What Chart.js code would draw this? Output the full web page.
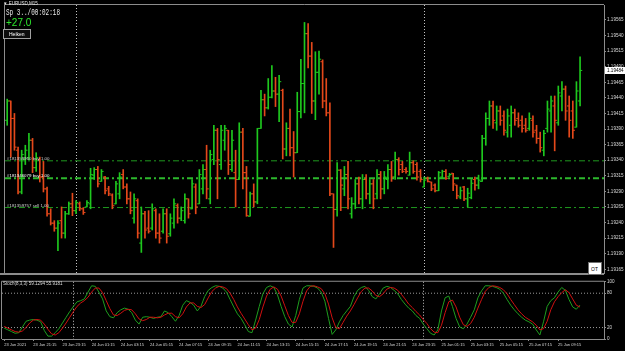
<!DOCTYPE html>
<html>
<head>
<meta charset="utf-8">
<title>EURUSD,M15</title>
<script src="https://cdn.jsdelivr.net/npm/chart.js@4.4.1/dist/chart.umd.min.js"></script>
<style>
  body { margin: 0; background: #000; }
  #wrap { position: relative; width: 625px; height: 351px; background: #000; overflow: hidden; font-family: 'Liberation Sans', Arial, sans-serif; }
  canvas { position: absolute; left: 0; }
  #main { top: 0; }
  #stoch { top: 278px; }
  .txt { position: absolute; white-space: nowrap; transform-origin: 0 0; color: #e8e8e8; }
  #sym { left: 3px; top: 1px; font-size: 9px; transform: scale(0.5); }
  #timer { left: 6px; top: 8px; font-family: 'Liberation Mono', monospace; font-size: 12px; transform: scale(0.5, 0.7); }
  #profit { left: 6px; top: 17px; font-size: 10px; color: #2ee82e; }
  .btn { position: absolute; border: 1px solid #a0a0a0; box-sizing: border-box; }
  #heiken { left: 3px; top: 29px; width: 28px; height: 10px; background: #0c0c0c; }
  #heikenTxt { left: 9px; top: 31px; font-size: 10px; transform: scale(0.5); color: #fff; }
  #ot { left: 588px; top: 262px; width: 14px; height: 13px; background: #fff; border-color: #707070; }
  #otTxt { left: 591px; top: 266px; font-size: 10px; transform: scale(0.5); color: #000; }
  #stochTxt { left: 3px; top: 281px; font-size: 9px; transform: scale(0.5); color: #ddd; }
</style>
</head>
<body>
<div id="wrap">
  <canvas id="main" width="625" height="278"></canvas>
  <canvas id="stoch" width="625" height="73"></canvas>
  <div class="txt" id="sym">&#9660; EURUSD,M15</div>
  <div class="txt" id="timer">Sp 3../00:02:18</div>
  <div class="txt" id="profit">+27.0</div>
  <div class="btn" id="heiken"></div>
  <div class="txt" id="heikenTxt">Heiken</div>
  <div class="btn" id="ot"></div>
  <div class="txt" id="otTxt">OT</div>
  <div class="txt" id="stochTxt">Stoch(8,3,3) 59.1294 55.9181</div>
</div>
<script>
// M15 bars, 23 Jun 2021 19:15 -> 25 Jun 2021 10:45
const open = [
  1.19404, 1.19435, 1.19407, 1.19356, 1.19289, 1.19341, 1.19344, 1.19372, 1.19328, 1.19341,
  1.19313, 1.19294, 1.19254, 1.19239, 1.19231, 1.19243, 1.19223, 1.19254, 1.19270, 1.19259,
  1.19270, 1.19262, 1.19265, 1.19270, 1.19316, 1.19325, 1.19306, 1.19313, 1.19294, 1.19284,
  1.19270, 1.19286, 1.19317, 1.19297, 1.19278, 1.19247, 1.19275, 1.19207, 1.19254, 1.19231,
  1.19231, 1.19259, 1.19223, 1.19226, 1.19254, 1.19222, 1.19239, 1.19267, 1.19247, 1.19243,
  1.19278, 1.19262, 1.19297, 1.19270, 1.19294, 1.19325, 1.19278, 1.19341, 1.19388, 1.19333,
  1.19372, 1.19388, 1.19325, 1.19320, 1.19309, 1.19385, 1.19320, 1.19250, 1.19286, 1.19273,
  1.19391, 1.19437, 1.19424, 1.19441, 1.19451, 1.19446, 1.19452, 1.19358, 1.19391, 1.19360,
  1.19352, 1.19418, 1.19463, 1.19543, 1.19507, 1.19435, 1.19481, 1.19498, 1.19435, 1.19416,
  1.19286, 1.19261, 1.19324, 1.19294, 1.19317, 1.19254, 1.19270, 1.19302, 1.19278, 1.19309,
  1.19286, 1.19302, 1.19286, 1.19317, 1.19294, 1.19309, 1.19325, 1.19313, 1.19341, 1.19333,
  1.19325, 1.19316, 1.19336, 1.19333, 1.19322, 1.19297, 1.19311, 1.19305, 1.19300, 1.19291,
  1.19313, 1.19322, 1.19314, 1.19319, 1.19300, 1.19281, 1.19297, 1.19278, 1.19280, 1.19309,
  1.19300, 1.19306, 1.19375, 1.19407, 1.19427, 1.19400, 1.19419, 1.19411, 1.19385, 1.19396,
  1.19416, 1.19407, 1.19404, 1.19396, 1.19391, 1.19404, 1.19388, 1.19375, 1.19356, 1.19391,
  1.19419, 1.19427, 1.19400, 1.19443, 1.19454, 1.19427, 1.19419, 1.19393, 1.19435
];
const high = [
  1.19438, 1.19435, 1.19415, 1.19361, 1.19356, 1.19364, 1.19383, 1.19375, 1.19352, 1.19345,
  1.19338, 1.19297, 1.19262, 1.19243, 1.19243, 1.19265, 1.19258, 1.19273, 1.19287, 1.19275,
  1.19273, 1.19264, 1.19275, 1.19327, 1.19328, 1.19330, 1.19325, 1.19314, 1.19298, 1.19286,
  1.19306, 1.19320, 1.19325, 1.19302, 1.19289, 1.19286, 1.19278, 1.19265, 1.19258, 1.19259,
  1.19270, 1.19262, 1.19254, 1.19262, 1.19262, 1.19254, 1.19278, 1.19270, 1.19265, 1.19286,
  1.19278, 1.19309, 1.19302, 1.19325, 1.19333, 1.19364, 1.19356, 1.19396, 1.19391, 1.19396,
  1.19396, 1.19388, 1.19388, 1.19356, 1.19400, 1.19391, 1.19330, 1.19289, 1.19302, 1.19391,
  1.19452, 1.19446, 1.19471, 1.19492, 1.19473, 1.19476, 1.19454, 1.19400, 1.19422, 1.19386,
  1.19449, 1.19502, 1.19561, 1.19559, 1.19529, 1.19514, 1.19515, 1.19501, 1.19471, 1.19432,
  1.19286, 1.19336, 1.19325, 1.19330, 1.19338, 1.19280, 1.19309, 1.19313, 1.19317, 1.19317,
  1.19309, 1.19309, 1.19325, 1.19322, 1.19322, 1.19333, 1.19338, 1.19353, 1.19344, 1.19338,
  1.19328, 1.19353, 1.19339, 1.19336, 1.19325, 1.19313, 1.19313, 1.19305, 1.19302, 1.19322,
  1.19324, 1.19325, 1.19319, 1.19319, 1.19300, 1.19297, 1.19298, 1.19295, 1.19309, 1.19313,
  1.19316, 1.19380, 1.19416, 1.19435, 1.19435, 1.19427, 1.19427, 1.19419, 1.19422, 1.19427,
  1.19422, 1.19416, 1.19411, 1.19407, 1.19416, 1.19411, 1.19396, 1.19385, 1.19388, 1.19435,
  1.19443, 1.19443, 1.19459, 1.19466, 1.19459, 1.19443, 1.19435, 1.19466, 1.19506
];
const low = [
  1.19396, 1.19345, 1.19356, 1.19286, 1.19286, 1.19333, 1.19341, 1.19320, 1.19322, 1.19305,
  1.19289, 1.19250, 1.19236, 1.19226, 1.19195, 1.19215, 1.19215, 1.19253, 1.19251, 1.19254,
  1.19259, 1.19253, 1.19265, 1.19262, 1.19309, 1.19297, 1.19306, 1.19286, 1.19283, 1.19262,
  1.19270, 1.19278, 1.19294, 1.19270, 1.19254, 1.19239, 1.19215, 1.19192, 1.19215, 1.19223,
  1.19228, 1.19215, 1.19207, 1.19223, 1.19207, 1.19218, 1.19231, 1.19239, 1.19243, 1.19239,
  1.19247, 1.19262, 1.19254, 1.19270, 1.19286, 1.19278, 1.19270, 1.19333, 1.19278, 1.19325,
  1.19356, 1.19317, 1.19322, 1.19265, 1.19309, 1.19294, 1.19250, 1.19250, 1.19265, 1.19270,
  1.19391, 1.19411, 1.19422, 1.19440, 1.19426, 1.19402, 1.19342, 1.19347, 1.19347, 1.19313,
  1.19352, 1.19408, 1.19416, 1.19488, 1.19415, 1.19405, 1.19446, 1.19424, 1.19411, 1.19283,
  1.19200, 1.19250, 1.19259, 1.19283, 1.19262, 1.19247, 1.19262, 1.19270, 1.19262, 1.19278,
  1.19270, 1.19262, 1.19278, 1.19278, 1.19286, 1.19294, 1.19306, 1.19309, 1.19316, 1.19320,
  1.19319, 1.19316, 1.19319, 1.19308, 1.19305, 1.19297, 1.19305, 1.19291, 1.19289, 1.19291,
  1.19311, 1.19309, 1.19314, 1.19291, 1.19278, 1.19278, 1.19275, 1.19265, 1.19278, 1.19292,
  1.19294, 1.19306, 1.19364, 1.19396, 1.19391, 1.19388, 1.19396, 1.19380, 1.19377, 1.19377,
  1.19396, 1.19393, 1.19385, 1.19385, 1.19388, 1.19377, 1.19367, 1.19353, 1.19347, 1.19385,
  1.19385, 1.19355, 1.19396, 1.19419, 1.19404, 1.19377, 1.19375, 1.19393, 1.19427
];
const close = [
  1.19435, 1.19407, 1.19361, 1.19289, 1.19349, 1.19356, 1.19372, 1.19328, 1.19344, 1.19313,
  1.19294, 1.19254, 1.19239, 1.19231, 1.19239, 1.19223, 1.19254, 1.19270, 1.19259, 1.19272,
  1.19262, 1.19256, 1.19272, 1.19317, 1.19325, 1.19302, 1.19322, 1.19291, 1.19286, 1.19267,
  1.19302, 1.19313, 1.19297, 1.19278, 1.19259, 1.19278, 1.19223, 1.19254, 1.19228, 1.19226,
  1.19262, 1.19223, 1.19215, 1.19254, 1.19218, 1.19247, 1.19270, 1.19247, 1.19259, 1.19278,
  1.19254, 1.19302, 1.19265, 1.19317, 1.19325, 1.19294, 1.19349, 1.19388, 1.19341, 1.19388,
  1.19391, 1.19333, 1.19372, 1.19309, 1.19385, 1.19320, 1.19251, 1.19286, 1.19273, 1.19391,
  1.19437, 1.19424, 1.19441, 1.19451, 1.19446, 1.19466, 1.19358, 1.19391, 1.19360, 1.19352,
  1.19418, 1.19463, 1.19543, 1.19507, 1.19435, 1.19481, 1.19502, 1.19435, 1.19416, 1.19286,
  1.19261, 1.19324, 1.19300, 1.19317, 1.19278, 1.19270, 1.19302, 1.19278, 1.19309, 1.19286,
  1.19302, 1.19278, 1.19317, 1.19294, 1.19313, 1.19325, 1.19313, 1.19341, 1.19325, 1.19322,
  1.19322, 1.19336, 1.19322, 1.19313, 1.19309, 1.19308, 1.19306, 1.19294, 1.19291, 1.19320,
  1.19322, 1.19311, 1.19317, 1.19302, 1.19283, 1.19291, 1.19278, 1.19287, 1.19303, 1.19300,
  1.19308, 1.19375, 1.19407, 1.19427, 1.19404, 1.19419, 1.19404, 1.19388, 1.19411, 1.19416,
  1.19404, 1.19396, 1.19391, 1.19388, 1.19407, 1.19385, 1.19375, 1.19360, 1.19383, 1.19422,
  1.19435, 1.19404, 1.19448, 1.19454, 1.19419, 1.19404, 1.19388, 1.19451, 1.19484
];

// Stochastic(8,3,3): main and signal
const stochMain = [
  19, 16, 13, 10, 11, 21, 31, 33, 34, 33,
  30, 15, 5, 5, 11, 18, 28, 38, 48, 57,
  65, 67, 70, 82, 93, 92, 82, 70, 49, 39,
  37, 46, 51, 54, 52, 46, 33, 26, 38, 39,
  38, 36, 38, 39, 49, 46, 39, 31, 41, 59,
  67, 64, 59, 49, 57, 74, 85, 90, 93, 92,
  89, 82, 69, 56, 44, 36, 25, 13, 11, 33,
  57, 79, 90, 93, 90, 77, 57, 39, 26, 21,
  41, 69, 89, 93, 93, 92, 89, 82, 66, 36,
  8, 16, 30, 41, 49, 57, 74, 85, 90, 92,
  85, 74, 70, 79, 89, 92, 90, 85, 79, 69,
  61, 54, 49, 41, 36, 26, 18, 10, 7, 16,
  49, 72, 75, 57, 36, 21, 18, 26, 38, 51,
  72, 84, 93, 93, 92, 90, 87, 80, 69, 59,
  51, 44, 38, 33, 30, 26, 16, 7, 30, 57,
  67, 72, 82, 90, 85, 69, 56, 52, 59.13
];
const stochSignal = [
  22, 19, 16, 13, 12, 14, 20, 28, 33, 34,
  33, 26, 17, 9, 7, 11, 19, 28, 38, 48,
  57, 63, 67, 73, 82, 89, 89, 81, 67, 53,
  42, 41, 45, 50, 52, 51, 44, 35, 32, 34,
  38, 38, 37, 38, 42, 45, 45, 39, 37, 44,
  56, 63, 63, 57, 55, 60, 72, 83, 89, 92,
  91, 88, 80, 69, 56, 45, 35, 25, 16, 19,
  34, 56, 75, 87, 91, 87, 75, 58, 41, 29,
  29, 44, 66, 84, 92, 93, 91, 88, 79, 61,
  37, 20, 18, 29, 40, 49, 60, 72, 83, 89,
  89, 84, 76, 74, 79, 87, 90, 89, 85, 78,
  70, 61, 55, 48, 42, 34, 27, 18, 12, 11,
  24, 46, 65, 68, 56, 38, 25, 22, 27, 38,
  54, 69, 83, 90, 93, 92, 90, 86, 79, 69,
  60, 51, 44, 38, 34, 30, 24, 16, 18, 31,
  51, 65, 74, 81, 86, 81, 70, 59, 55.92
];

// open orders
const orderLevels = [1.19339, 1.19311, 1.19264];
const orderLabels = ['#181359960 buy 1.00', '#181346079 buy 1.00', '#181359757 sell 1.00'];

// axes
const priceTicks = [1.19165, 1.19190, 1.19215, 1.19240, 1.19265, 1.19290, 1.19315, 1.19340, 1.19365,
  1.19390, 1.19415, 1.19440, 1.19465, 1.19490, 1.19515, 1.19540, 1.19565];
const stochTicks = [0, 20, 80, 100];
const stochLevels = [20, 80];
const timeTickIndex = [0, 8, 16, 24, 32, 40, 48, 56, 64, 72, 80, 88, 96, 104, 112, 120, 128, 136, 144, 152];
const timeTickLabels = ['23 Jun 2021', '23 Jun 21:15', '23 Jun 23:15', '24 Jun 01:15', '24 Jun 03:15',
  '24 Jun 05:15', '24 Jun 07:15', '24 Jun 09:15', '24 Jun 11:15', '24 Jun 13:15', '24 Jun 15:15',
  '24 Jun 17:15', '24 Jun 19:15', '24 Jun 21:15', '24 Jun 23:15', '25 Jun 01:15', '25 Jun 03:15',
  '25 Jun 05:15', '25 Jun 07:15', '25 Jun 09:15'];
const daySeparators = [19, 115];

const xMin = -0.6, xMax = 164.6;
const priceMin = 1.19159, priceMax = 1.19589;

const bullColor = '#1ec81e';
const bearColor = '#e4481a';
const orderColor = '#1f9a1f';
const frameColor = '#8c8c8c';
const axisFont = { family: 'Liberation Sans', size: 4.6 };

const barColors = close.map((c, i) => c >= open[i] ? bullColor : bearColor);

// dotted day separators + pane frame
const paneDecor = {
  id: 'paneDecor',
  beforeDatasetsDraw(chart) {
    const { ctx, chartArea: a, scales: { x } } = chart;
    ctx.save();
    ctx.strokeStyle = '#c4c4c4';
    ctx.lineWidth = 1;
    ctx.setLineDash([1, 2]);
    daySeparators.forEach(i => {
      const px = Math.round(x.getPixelForValue(i)) + 0.5;
      ctx.beginPath();
      ctx.moveTo(px, a.top);
      ctx.lineTo(px, a.bottom);
      ctx.stroke();
    });
    ctx.restore();
  },
  afterDraw(chart) {
    const { ctx, chartArea: a } = chart;
    ctx.save();
    ctx.strokeStyle = frameColor;
    ctx.lineWidth = 1;
    ctx.beginPath();
    ctx.moveTo(a.left - 0.5, a.bottom);
    ctx.lineTo(a.left - 0.5, a.top - 0.5);
    ctx.lineTo(a.right, a.top - 0.5);
    ctx.stroke();
    if (chart.canvas.id === 'main') {
      ctx.lineWidth = 2;
      ctx.beginPath();
      ctx.moveTo(0, a.bottom + 1);
      ctx.lineTo(a.right, a.bottom + 1);
      ctx.stroke();
    }
    ctx.restore();
  }
};

// order labels and current price tag
const mainText = {
  id: 'mainText',
  afterDatasetsDraw(chart) {
    const { ctx, chartArea: a, scales: { y } } = chart;
    ctx.save();
    ctx.font = '4.4px Liberation Sans';
    ctx.textBaseline = 'middle';
    orderLevels.forEach((lvl, k) => {
      ctx.fillStyle = k === 1 ? '#ffffff' : '#cfcfcf';
      ctx.fillText(orderLabels[k], a.left + 2, y.getPixelForValue(lvl) - 2);
    });
    ctx.restore();
  },
  afterDraw(chart) {
    const { ctx, chartArea: a, scales: { y } } = chart;
    const last = close[close.length - 1];
    const py = Math.round(y.getPixelForValue(last));
    ctx.save();
    ctx.fillStyle = '#ffffff';
    ctx.fillRect(a.right + 1, py - 3, chart.width - a.right - 1, 7);
    ctx.fillStyle = '#000';
    ctx.font = axisFont.size + 'px Liberation Sans';
    ctx.textBaseline = 'middle';
    ctx.fillText(last.toFixed(5), a.right + 3, py + 0.5);
    ctx.restore();
  }
};

const hLine = (v, a, b) => [{ x: a, y: v }, { x: b, y: v }];

new Chart(document.getElementById('main'), {
  type: 'bar',
  data: {
    datasets: [
      {
        label: 'range',
        data: high.map((h, i) => ({ x: i, y: [low[i], h] })),
        backgroundColor: barColors,
        barThickness: 1,
        borderWidth: 0
      },
      {
        type: 'line',
        label: 'open',
        data: open.map((v, i) => ({ x: i - 0.32, y: v })),
        showLine: false,
        pointStyle: 'line',
        pointRadius: 1,
        pointBorderWidth: 1,
        pointBorderColor: barColors,
        pointBackgroundColor: barColors
      },
      {
        type: 'line',
        label: 'close',
        data: close.map((v, i) => ({ x: i + 0.32, y: v })),
        showLine: false,
        pointStyle: 'line',
        pointRadius: 1,
        pointBorderWidth: 1,
        pointBorderColor: barColors,
        pointBackgroundColor: barColors
      },
      ...orderLevels.map((lvl, k) => ({
        type: 'line',
        label: orderLabels[k],
        data: hLine(lvl, xMin, xMax),
        borderColor: k === 1 ? '#2cb82c' : orderColor,
        borderWidth: k === 1 ? 2 : 1,
        borderDash: [6, 3, 2, 3],
        pointRadius: 0
      }))
    ]
  },
  options: {
    responsive: false,
    animation: false,
    layout: { padding: { left: 2, top: 2, bottom: 2, right: 0 } },
    plugins: { legend: { display: false }, tooltip: { enabled: false } },
    scales: {
      x: { type: 'linear', min: xMin, max: xMax, offset: false, display: false },
      y: {
        position: 'right',
        min: priceMin,
        max: priceMax,
        afterFit(s) { s.width = 21; },
        afterBuildTicks(s) { s.ticks = priceTicks.map(v => ({ value: v })); },
        grid: { drawOnChartArea: false, color: frameColor, tickLength: 2 },
        border: { color: frameColor },
        ticks: { color: '#d8d8d8', font: axisFont, padding: 1, callback: v => v.toFixed(5) }
      }
    }
  },
  plugins: [paneDecor, mainText]
});

new Chart(document.getElementById('stoch'), {
  type: 'line',
  data: {
    datasets: [
      {
        label: 'Signal',
        data: stochSignal.map((v, i) => ({ x: i, y: v })),
        borderColor: '#d01010',
        borderWidth: 1,
        pointRadius: 0
      },
      {
        label: 'Main',
        data: stochMain.map((v, i) => ({ x: i, y: v })),
        borderColor: '#1e9e1e',
        borderWidth: 1,
        pointRadius: 0
      },
      ...stochLevels.map(v => ({
        label: 'level ' + v,
        data: hLine(v, xMin, xMax),
        borderColor: '#9a9a9a',
        borderWidth: 1,
        borderDash: [1, 2],
        pointRadius: 0
      }))
    ]
  },
  options: {
    responsive: false,
    animation: false,
    layout: { padding: { left: 2, top: 1, bottom: 0, right: 0 } },
    plugins: { legend: { display: false }, tooltip: { enabled: false } },
    scales: {
      x: {
        type: 'linear',
        min: xMin,
        max: xMax,
        afterFit(s) { s.height = 12; },
        afterBuildTicks(s) { s.ticks = timeTickIndex.map(v => ({ value: v })); },
        grid: { drawOnChartArea: false, color: frameColor, tickLength: 2 },
        border: { color: frameColor },
        ticks: {
          color: '#d8d8d8',
          font: { family: 'Liberation Sans', size: 4 },
          align: 'start',
          maxRotation: 0,
          autoSkip: false,
          padding: 1,
          callback: v => timeTickLabels[timeTickIndex.indexOf(v)]
        }
      },
      y: {
        position: 'right',
        min: 0,
        max: 100,
        afterFit(s) { s.width = 21; },
        afterBuildTicks(s) { s.ticks = stochTicks.map(v => ({ value: v })); },
        grid: { drawOnChartArea: false, color: frameColor, tickLength: 2 },
        border: { color: frameColor },
        ticks: { color: '#d8d8d8', font: axisFont, padding: 1 }
      }
    }
  },
  plugins: [paneDecor]
});
</script>
</body>
</html>
